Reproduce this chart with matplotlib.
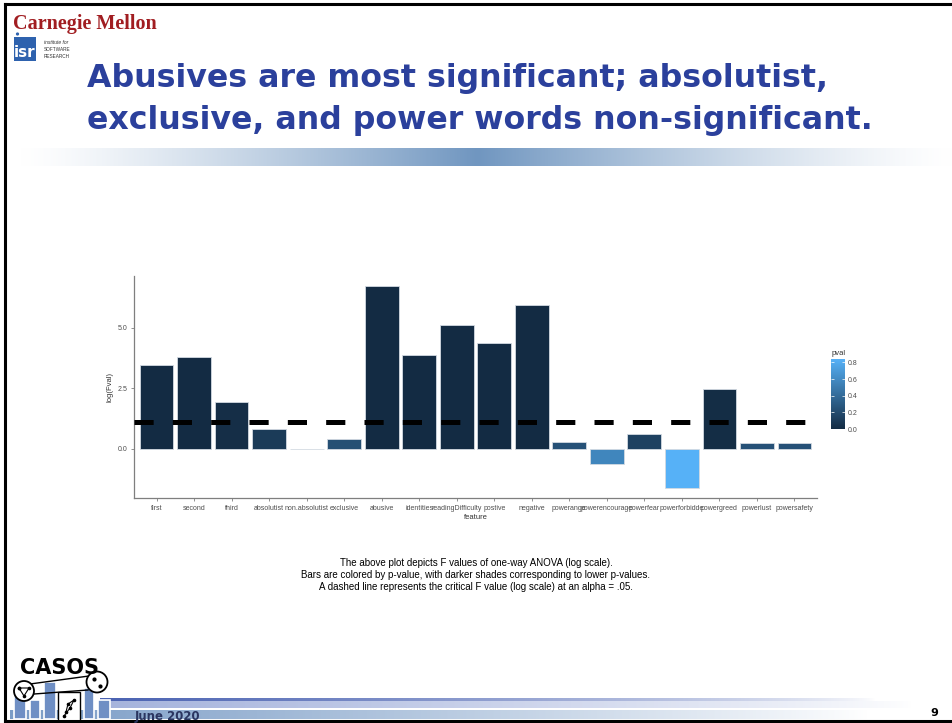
import numpy as np
import matplotlib as mpl
import matplotlib.pyplot as plt
from matplotlib.colors import LinearSegmentedColormap, Normalize, to_rgb
from matplotlib.patches import Rectangle, Circle
from matplotlib.cm import ScalarMappable

mpl.rcParams['lines.scale_dashes'] = False

# --- chart data ---
features = ["first", "second", "third", "absolutist", "non.absolutist", "exclusive",
            "abusive", "identities", "readingDifficulty", "postive", "negative",
            "powerange", "powerencourage", "powerfear", "powerforbidde", "powergreed",
            "powerlust", "powersafety"]
log_fval = [3.47, 3.81, 1.94, 0.80, -0.03, 0.40, 6.73, 3.88, 5.11, 4.37, 5.96,
            0.30, -0.63, 0.62, -1.62, 2.48, 0.24, 0.25]
pval = [0.0, 0.0, 0.02, 0.10, 0.40, 0.23, 0.0, 0.0, 0.0, 0.0, 0.0,
        0.24, 0.57, 0.14, 0.84, 0.01, 0.24, 0.24]
crit_log_f = 1.10
y_ticks = [0.0, 2.5, 5.0]
pval_ticks = [0.0, 0.2, 0.4, 0.6, 0.8]

title_lines = ["Abusives are most significant; absolutist,",
               "exclusive, and power words non-significant."]
caption_lines = ["The above plot depicts F values of one-way ANOVA (log scale).",
                 "Bars are colored by p-value, with darker shades corresponding to lower p-values.",
                 "A dashed line represents the critical F value (log scale) at an alpha = .05."]

W, H = 953, 723
fig = plt.figure(figsize=(W / 100, H / 100), dpi=100)
fig.patch.set_facecolor("white")

# background layer in pixel coordinates
bg = fig.add_axes([0, 0, 1, 1], zorder=0)
bg.axis("off")


def hband(x0, x1, y0, y1, profile, color):
    c = np.array(to_rgb(color))
    a = np.asarray(profile)[:, None]
    img = (1 - a) * np.ones(3) + a * c
    bg.imshow(img[None, :, :], extent=(x0, x1, y1, y0), aspect="auto",
              interpolation="bilinear", zorder=1)


# gradient band under the title
t = np.linspace(0, 1, 400)
peak = 0.49
prof = np.where(t < peak, t / peak, (1 - t) / (1 - peak))
hband(20, 953, 148, 166, np.clip(prof, 0, 1) ** 1.3, "#7096C0")

# footer bands
tf = np.linspace(0, 1, 400)
hband(100, 953, 699, 701.5, np.clip(1 - tf * 1.1, 0, 1) ** 0.7, "#4A62B2")
hband(100, 953, 701.5, 708, np.clip(1 - tf * 1.05, 0, 1) ** 0.8, "#A5B3DC")
hband(10, 953, 710, 719, np.clip(1 - tf * 1.1, 0, 1) ** 0.9, "#7A9CC6")

# slide border
bg.plot([5, 5], [4, 721], color="black", lw=2.2, zorder=5)
bg.plot([5, 953], [4, 4], color="black", lw=2.2, zorder=5)
bg.plot([5, 953], [721, 721], color="black", lw=2.2, zorder=5)

# Carnegie Mellon / isr logos
bg.text(13, 29, "Carnegie Mellon", family="Liberation Serif", weight="bold",
        fontsize=14.5, color="#A11D21", va="baseline", zorder=6)
bg.add_patch(Rectangle((14, 37), 22, 24, facecolor="#2E62AE", edgecolor="none", zorder=6))
bg.add_patch(Circle((17.5, 34), 1.6, facecolor="#2E62AE", edgecolor="none", zorder=6))
bg.text(25, 57, "isr", family="DejaVu Sans", weight="bold", fontsize=11,
        color="white", ha="center", va="baseline", zorder=7)
bg.text(44, 44, "institute for", family="Liberation Sans", style="italic",
        fontsize=3.6, color="#333333", va="baseline", zorder=6)
bg.text(44, 51, "SOFTWARE", family="Liberation Sans", fontsize=3.4,
        color="#333333", va="baseline", zorder=6)
bg.text(44, 58, "RESEARCH", family="Liberation Sans", fontsize=3.4,
        color="#333333", va="baseline", zorder=6)

# title
for i, line in enumerate(title_lines):
    bg.text(87, 87 + 42 * i, line, family="DejaVu Sans", weight="bold",
            fontsize=22.8, color="#2B409C", va="baseline", zorder=6)

# caption
for i, line in enumerate(caption_lines):
    bg.text(476, 566 + 12 * i, line, family="Liberation Sans", fontsize=7,
            color="black", ha="center", va="baseline", zorder=6)

# CASOS logo (rough)
for (x0, y0, w, h) in [(14, 690, 12, 29), (30, 700, 10, 19), (44, 682, 12, 37),
                       (84, 688, 10, 31), (98, 700, 12, 19)]:
    bg.add_patch(Rectangle((x0, y0), w, h, facecolor="#6F8FC4", edgecolor="white",
                           lw=1.2, zorder=3))
bg.add_patch(Rectangle((58, 692), 22, 29, facecolor="white", edgecolor="black",
                       lw=1.0, zorder=4))
bg.plot([64, 70, 74, 68, 66], [716, 708, 700, 704, 712], color="black", lw=0.8,
        marker="o", ms=1.6, zorder=5)
bg.add_patch(Circle((24, 691), 10, facecolor="white", edgecolor="black", lw=1.3, zorder=5))
bg.add_patch(Circle((97, 682), 10.5, facecolor="white", edgecolor="black", lw=1.3, zorder=5))
bg.plot([30, 89], [684, 676], color="black", lw=1.0, zorder=4)
bg.plot([34, 88], [694, 690], color="black", lw=1.0, zorder=4)
bg.plot([19, 24, 29, 19], [688, 696, 688, 688], color="black", lw=0.8,
        marker="o", ms=1.6, zorder=6)
bg.plot([94, 100], [679, 686], color="black", lw=0, marker="o", ms=2, zorder=6)
bg.text(20, 674, "CASOS", family="DejaVu Sans", weight="heavy", fontsize=15,
        color="black", va="baseline", zorder=6)

# footer texts
bg.text(135, 720, "June 2020", family="DejaVu Sans", weight="bold", fontsize=8.5,
        color="#2A3560", va="baseline", zorder=6)
bg.text(934, 716, "9", family="DejaVu Sans", weight="bold", fontsize=8,
        color="black", ha="center", va="baseline", zorder=6)

bg.set_xlim(0, W)
bg.set_ylim(H, 0)

# --- bar chart ---
cmap = LinearSegmentedColormap.from_list("gg", ["#132B43", "#56B1F7"])
norm = Normalize(vmin=0.0, vmax=max(pval))

ax = fig.add_axes([134 / W, 1 - 498 / H, (817 - 134) / W, (498 - 276) / H], zorder=2)
x = np.arange(len(features))
ax.bar(x, log_fval, width=0.9, color=cmap(norm(np.array(pval))),
       edgecolor="#D3DAE2", linewidth=0.6, zorder=2)
ax.axhline(crit_log_f, color="black", lw=3.6, dashes=(13.8, 13.8),
           solid_capstyle="butt", dash_capstyle="butt", zorder=3)

span = max(log_fval) - min(log_fval)
ax.set_xlim(-0.6, len(features) - 0.4)
ax.set_ylim(min(log_fval) - 0.05 * span, max(log_fval) + 0.05 * span)
ax.set_xticks(x)
ax.set_xticklabels(features, family="Liberation Sans")
ax.set_yticks(y_ticks)
ax.set_yticklabels([f"{v:.1f}" for v in y_ticks], family="Liberation Sans")
ax.tick_params(axis="both", length=2.2, width=0.6, color="#7F7F7F",
               labelsize=5, labelcolor="#4D4D4D", pad=2.5)
for side in ("top", "right"):
    ax.spines[side].set_visible(False)
for side in ("left", "bottom"):
    ax.spines[side].set_color("#7F7F7F")
    ax.spines[side].set_linewidth(0.9)
ax.set_xlabel("feature", family="Liberation Sans", fontsize=5.5, color="#333333",
              labelpad=2)
ax.set_ylabel("log(Fval)", family="Liberation Sans", fontsize=5.5, color="#333333",
              labelpad=3)

# --- colour bar legend ---
cax = fig.add_axes([831 / W, 1 - 429 / H, 14 / W, 70 / H], zorder=2)
cb = fig.colorbar(ScalarMappable(norm=norm, cmap=cmap), cax=cax)
cb.outline.set_visible(False)
cb.set_ticks(pval_ticks)
cb.set_ticklabels([f"{v:.1f}" for v in pval_ticks])
cax.tick_params(left=True, right=True, labelleft=False, labelright=True,
                direction="in", length=2.5, width=0.5, color="white",
                labelsize=5, labelcolor="#4D4D4D", pad=2)
for lab in cax.get_yticklabels():
    lab.set_family("Liberation Sans")
fig.text(832 / W, 1 - 355 / H, "pval", family="Liberation Sans", fontsize=5.5,
         color="#333333", va="baseline")

fig.savefig("out.png", dpi=100, facecolor="white")
